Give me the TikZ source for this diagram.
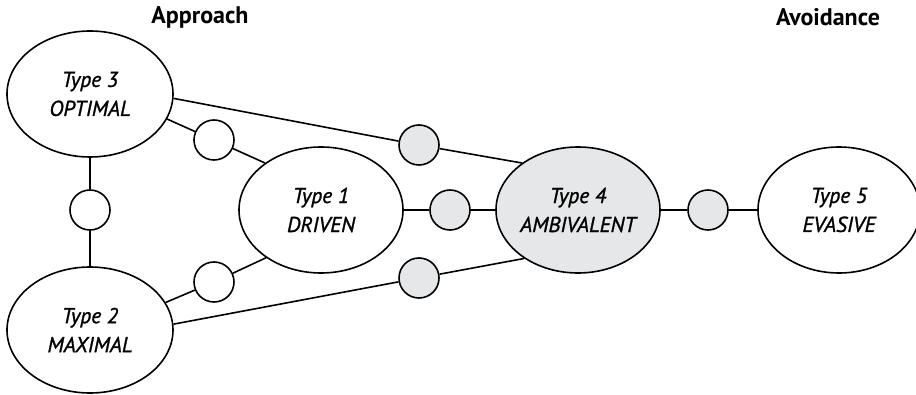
\documentclass[tikz,border=0pt]{standalone}
\usepackage{fontspec}
\setmainfont{PT Sans}
\newfontfamily\typefont[ItalicFeatures={FakeBold=1.2}]{PT Sans}
\usetikzlibrary{shapes.geometric}
\definecolor{lgray}{HTML}{E6E7E8}
\tikzset{
  typebox/.style={ellipse, draw, line width=1.6pt, inner sep=0pt, minimum width=166pt, minimum height=126pt,
    align=center, font=\typefont\fontsize{21.5}{29}\selectfont\itshape},
  wcirc/.style={circle, draw, line width=1.6pt, fill=white, minimum size=40pt, inner sep=0pt},
  gcirc/.style={wcirc, fill=lgray},
  conn/.style={line width=1.6pt},
  head/.style={font=\fontsize{24}{26}\selectfont\bfseries}
}
\begin{document}
\begin{tikzpicture}[x=1pt, y=-1pt]
\useasboundingbox (0,0) rectangle (916,395);
\node[head] (appr) at (200,17) {Approach};
\node[head] (avoid) at (828,17) {Avoidance};
\node[typebox] (t3) at (90,94) {Type 3\\OPTIMAL};
\node[typebox] (t2) at (90,330) {Type 2\\MAXIMAL};
\node[typebox, minimum width=164pt] (t1) at (321,210) {Type 1\\DRIVEN};
\node[typebox, minimum width=164pt, fill=lgray] (t4) at (578,210) {Type 4\\AMBIVALENT};
\node[typebox, minimum width=162pt] (t5) at (839,210) {Type 5\\EVASIVE};
\node[wcirc] (w1) at (90,210) {};
\node[wcirc] (w2) at (214,140) {};
\node[wcirc] (w3) at (214,282) {};
\node[gcirc] (g1) at (419,145) {};
\node[gcirc] (g2) at (450,210) {};
\node[gcirc] (g3) at (419,278) {};
\node[gcirc] (g4) at (708,210) {};
\draw[conn] (t3.south) -- (w1) -- (t2.north);
\draw[conn] (t3.-18) -- (w2) -- (t1.140);
\draw[conn] (t2.20) -- (w3) -- (t1.221);
\draw[conn] (t3.-3) -- (g1) -- (t4.140);
\draw[conn] (t2.4) -- (g3) -- (t4.222);
\draw[conn] (t1.east) -- (g2) -- (t4.west);
\draw[conn] (t4.east) -- (g4) -- (t5.west);
\end{tikzpicture}
\end{document}
